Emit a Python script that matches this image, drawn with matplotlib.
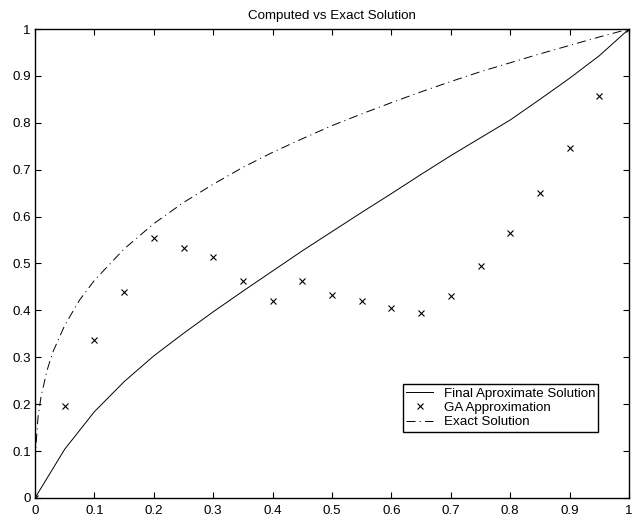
import numpy as np
import matplotlib
matplotlib.use('Agg')
import matplotlib.pyplot as plt
from matplotlib.ticker import FormatStrFormatter, MultipleLocator

plt.rcParams['font.family'] = ['Liberation Sans', 'DejaVu Sans']
plt.rcParams['lines.scale_dashes'] = False

# Данные
x_ga = [0, 0.05, 0.1, 0.15, 0.2, 0.25, 0.3, 0.35, 0.4, 0.45, 0.5,
        0.55, 0.6, 0.65, 0.7, 0.75, 0.8, 0.85, 0.9, 0.95, 1.0]
y_ga = [0, 0.196, 0.336, 0.439, 0.554, 0.532, 0.514, 0.462, 0.421, 0.462, 0.432,
        0.420, 0.406, 0.394, 0.430, 0.494, 0.565, 0.651, 0.746, 0.858, 1.0]

x_final = x_ga
y_final = [0, 0.104, 0.184, 0.248, 0.303, 0.351, 0.397, 0.441, 0.484, 0.527, 0.568,
           0.609, 0.649, 0.690, 0.730, 0.768, 0.806, 0.850, 0.895, 0.943, 1.0]

x_exact = [0, 0.001, 0.005, 0.01, 0.02, 0.03, 0.05, 0.075, 0.1, 0.15, 0.2, 0.25, 0.3,
           0.35, 0.4, 0.45, 0.5, 0.55, 0.6, 0.65, 0.7, 0.75, 0.8, 0.85, 0.9, 0.95, 1.0]
y_exact = [0, 0.100, 0.171, 0.215, 0.271, 0.311, 0.368, 0.422, 0.464, 0.531, 0.585,
           0.630, 0.669, 0.705, 0.737, 0.766, 0.794, 0.819, 0.843, 0.866, 0.888,
           0.909, 0.928, 0.947, 0.965, 0.983, 1.0]

fig = plt.figure(figsize=(6.32, 5.2), dpi=100)
ax = fig.add_axes([35 / 632, 22 / 520, 594 / 632, 469 / 520])

ax.plot(x_final, y_final, color='black', lw=0.7, label='Final Aproximate Solution')
ax.plot(x_ga, y_ga, 'x', color='black', ms=4.5, mew=0.8, label='GA Approximation')
ax.plot(x_exact, y_exact, color='black', lw=0.7, dashes=(6.5, 3.0, 0.8, 3.0),
        label='Exact Solution')

ax.set_xlim(0, 1)
ax.set_ylim(0, 1)
ax.xaxis.set_major_locator(MultipleLocator(0.1))
ax.yaxis.set_major_locator(MultipleLocator(0.1))
ax.xaxis.set_major_formatter(FormatStrFormatter('%g'))
ax.yaxis.set_major_formatter(FormatStrFormatter('%g'))
ax.tick_params(direction='in', length=4, width=0.8, top=True, right=True,
               labelsize=9.6, colors='black')
ax.tick_params(axis='x', pad=5)
ax.tick_params(axis='y', pad=3)
for s in ax.spines.values():
    s.set_linewidth(1.0)

ax.set_title('Computed vs Exact Solution', fontsize=9.6, pad=7)

leg = ax.legend(loc='upper left', bbox_to_anchor=(0.6195, 0.243), fontsize=9.6,
                fancybox=False, framealpha=1, edgecolor='black',
                borderpad=0.25, labelspacing=0.15, handlelength=2.0,
                handletextpad=0.8, borderaxespad=0)
leg.get_frame().set_linewidth(1.0)

fig.savefig('out.png', dpi=100)
